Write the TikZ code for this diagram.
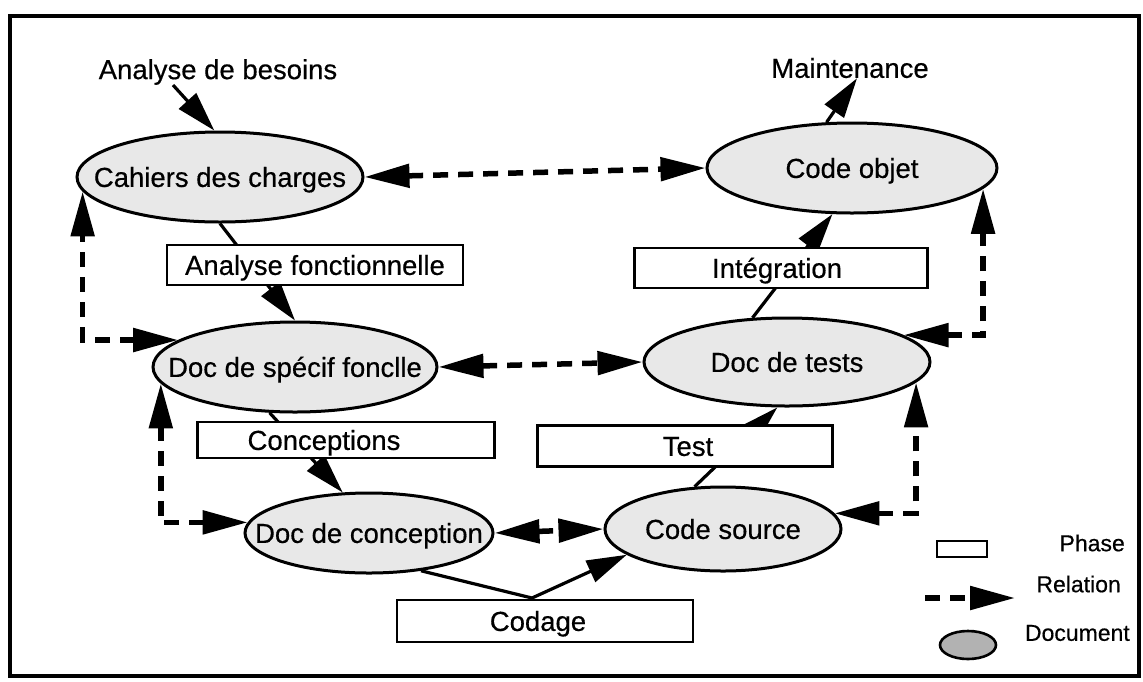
\documentclass[tikz,border=0pt]{standalone}
\usepackage{fontspec}
\setmainfont{Liberation Sans}[FakeBold=0.5]
\usetikzlibrary{arrows.meta,shapes.geometric,calc}
\newcommand\ctext[2][0pt]{\smash{\makebox[0pt]{\hspace*{#1}\raisebox{-0.36em}{#2}\hspace*{-#1}}}}
\begin{document}
\begin{tikzpicture}[x=1pt,y=-1pt,
  doc/.style={ellipse,draw,line width=3pt,fill=black!9,inner sep=0pt,font=\fontsize{27.5}{32}\selectfont},
  phasebox/.style={rectangle,draw,line width=2.7pt,fill=white,inner sep=0pt,font=\fontsize{27.5}{32}\selectfont},
  lbl/.style={inner sep=0pt,font=\fontsize{27.5}{32}\selectfont},
  leg/.style={inner sep=0pt,font=\fontsize{23}{27}\selectfont},
  flow/.style={line width=3.2pt,-{Triangle[length=40pt,width=23pt]}},
  relline/.style={line width=5.5pt,dash pattern=on 15pt off 10pt},
  rel/.style={relline,{Triangle[length=45pt,width=23pt]}-{Triangle[length=45pt,width=23pt]}},
]
\useasboundingbox (0,0) rectangle (1143,681);
\draw[line width=3.5pt] (10,16) rectangle (1139,676);

% documents
\node[doc,minimum width=286pt,minimum height=90pt] (cahiers) at (220,177) {\ctext{Cahiers des charges}};
\node[doc,minimum width=290pt,minimum height=90pt] (codeobj) at (852,168) {\ctext{Code objet}};
\node[doc,minimum width=284pt,minimum height=90pt] (docspec) at (295,367) {\ctext{Doc de spécif fonclle}};
\node[doc,minimum width=286pt,minimum height=88pt] (doctests) at (787,362) {\ctext{Doc de tests}};
\node[doc,minimum width=248pt,minimum height=80pt] (docconc) at (369,533) {\ctext{Doc de conception}};
\node[doc,minimum width=236pt,minimum height=84pt] (codesrc) at (723,529) {\ctext{Code source}};

% free labels
\node[lbl] (ab) at (218,72) {Analyse de besoins};
\node[lbl] (mt) at (850,68) {Maintenance};
\coordinate (v) at (532,598);

% phase flows
\draw[flow] ([xshift=-45pt]ab.south) -- (cahiers.97);
\draw[flow] (cahiers.south) -- (docspec.north);
\draw[flow] (docspec.-119) -- (docconc.123);
\draw[flow] (docconc.-36) -- (v) -- (codesrc.195);
\draw[flow] (codesrc.124) -- (doctests.-102);
\draw[flow] (doctests.128) -- (codeobj.-113);
\draw[flow] (codeobj.119) -- ([xshift=7pt]mt.south);

% relations
\draw[rel] (cahiers.east) -- (codeobj.west);
\draw[rel] (docspec.east) -- (doctests.west);
\draw[rel] (docconc.east) -- (codesrc.west);
\draw[rel] (docspec.167) -| (cahiers.186);
\draw[rel] (docconc.175) -| (docspec.187);
\draw[rel] (codesrc.8) -| (doctests.-9);
\draw[rel] (doctests.13) -| (codeobj.-9);

% phases
\node[phasebox,minimum width=296pt,minimum height=40pt] (af) at (315,265) {\ctext{Analyse fonctionnelle}};
\node[phasebox,minimum width=297pt,minimum height=36pt] (conc) at (346,440) {\ctext[-22pt]{Conceptions}};
\node[phasebox,minimum width=293pt,minimum height=40pt] (integ) at (781,268) {\ctext[-4pt]{Intégration}};
\node[phasebox,minimum width=295pt,minimum height=41pt] (test) at (685,446) {\ctext[3pt]{Test}};
\node[phasebox,minimum width=296pt,minimum height=42pt] (codage) at (545,621) {\ctext[-7pt]{Codage}};

% legend
\node[phasebox,minimum width=50pt,minimum height=16pt,line width=2.4pt] (legphase) at (962,549) {};
\node[leg,anchor=east] (tphase) at (1125,543) {Phase};
\coordinate (rela) at (925,598);
\coordinate (relb) at (1015,598);
\draw[relline,-{Triangle[length=45pt,width=23pt]}] (rela) -- (relb);
\node[leg,anchor=east] (trel) at (1121,584) {Relation};
\node[doc,minimum width=56pt,minimum height=28pt,fill=black!30,line width=2.6pt] (legdoc) at (968,645) {};
\node[leg,anchor=east] (tdoc) at (1130,633) {Document};
\end{tikzpicture}
\end{document}
